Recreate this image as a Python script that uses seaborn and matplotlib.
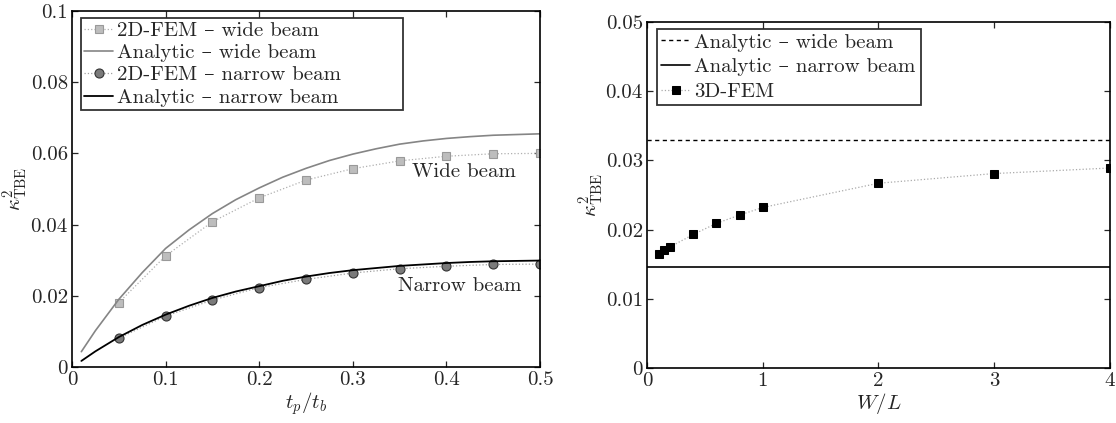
import matplotlib
matplotlib.use("Agg")
import matplotlib.pyplot as plt
import seaborn as sns
import numpy as np

# ---- Left panel data ----
tp_fem = [0.05, 0.10, 0.15, 0.20, 0.25, 0.30, 0.35, 0.40, 0.45, 0.50]
wide_fem = [0.0181, 0.0312, 0.0408, 0.0475, 0.0525, 0.0557, 0.0579, 0.0592, 0.0599, 0.0600]
narrow_fem = [0.0081, 0.0143, 0.0188, 0.0223, 0.0246, 0.0264, 0.0276, 0.0283, 0.0288, 0.0289]

tp_an = [0.01, 0.025, 0.05, 0.075, 0.10, 0.125, 0.15, 0.175, 0.20, 0.225, 0.25, 0.275,
         0.30, 0.325, 0.35, 0.375, 0.40, 0.425, 0.45, 0.475, 0.50]
wide_an = [0.0043, 0.0102, 0.0190, 0.0265, 0.0333, 0.0385, 0.0431, 0.0470, 0.0503, 0.0533,
           0.0558, 0.0580, 0.0598, 0.0613, 0.0626, 0.0635, 0.0642, 0.0647, 0.0651, 0.0653, 0.0655]
narrow_an = [0.0017, 0.0044, 0.0084, 0.0118, 0.0147, 0.0172, 0.0194, 0.0212, 0.0227, 0.0242,
             0.0254, 0.0264, 0.0272, 0.0278, 0.0284, 0.0288, 0.0292, 0.0295, 0.0297, 0.0298, 0.0299]

# ---- Right panel data ----
wl = [0.1, 0.15, 0.2, 0.4, 0.6, 0.8, 1.0, 2.0, 3.0, 4.0]
fem3d = [0.0165, 0.0170, 0.0175, 0.0193, 0.0209, 0.0221, 0.0232, 0.0267, 0.0281, 0.0289]
wide_const = 0.0330
narrow_const = 0.0146

left_xticks = [0, 0.1, 0.2, 0.3, 0.4, 0.5]
left_xlabels = ["0", "0.1", "0.2", "0.3", "0.4", "0.5"]
left_yticks = [0, 0.02, 0.04, 0.06, 0.08, 0.1]
left_ylabels = ["0", "0.02", "0.04", "0.06", "0.08", "0.1"]
right_xticks = [0, 1, 2, 3, 4]
right_xlabels = ["0", "1", "2", "3", "4"]
right_yticks = [0, 0.01, 0.02, 0.03, 0.04, 0.05]
right_ylabels = ["0", "0.01", "0.02", "0.03", "0.04", "0.05"]

sns.set_style("ticks")
plt.rcParams['font.family'] = ['cmr10', 'DejaVu Serif']
plt.rcParams['mathtext.fontset'] = 'cm'
plt.rcParams['axes.unicode_minus'] = False
plt.rcParams['axes.formatter.use_mathtext'] = True
FS = 15

fig = plt.figure(figsize=(11.16, 4.23), dpi=100)
ax1 = fig.add_axes([0.0645, 0.1324, 0.4194, 0.8416])
ax2 = fig.add_axes([0.5797, 0.130, 0.4149, 0.818])

# Left panel
sns.lineplot(x=tp_fem, y=wide_fem, ax=ax1, color='#b0b0b0', linestyle=':', lw=0.9,
             marker='s', markersize=5.5, markerfacecolor='#bdbdbd', markeredgecolor='#999999',
             markeredgewidth=0.8, label='2D-FEM – wide beam')
sns.lineplot(x=tp_an, y=wide_an, ax=ax1, color='#858585', lw=1.2,
             label='Analytic – wide beam')
sns.lineplot(x=tp_fem, y=narrow_fem, ax=ax1, color='#a0a0a0', linestyle=':', lw=0.9,
             marker='o', markersize=6.5, markerfacecolor='#7a7a7a', markeredgecolor='#333333',
             markeredgewidth=0.8, label='2D-FEM – narrow beam')
sns.lineplot(x=tp_an, y=narrow_an, ax=ax1, color='black', lw=1.3,
             label='Analytic – narrow beam')
ax1.text(0.419, 0.0548, 'Wide beam', ha='center', va='center', fontsize=FS)
ax1.text(0.414, 0.0228, 'Narrow beam', ha='center', va='center', fontsize=FS)

ax1.set_xlim(0, 0.5)
ax1.set_ylim(0, 0.1)
ax1.set_xticks(left_xticks)
ax1.set_xticklabels(left_xlabels)
ax1.set_yticks(left_yticks)
ax1.set_yticklabels(left_ylabels)
ax1.set_xlabel(r'$t_p/t_b$', fontsize=FS, labelpad=1)
ax1.set_ylabel(r'$\kappa^2_{\mathrm{TBE}}$', fontsize=FS)
ax1.yaxis.set_label_coords(-0.090, 0.5)
leg1 = ax1.legend(loc='upper left', bbox_to_anchor=(0.019, 0.705, 0.688, 0.275),
                  mode='expand', borderaxespad=0,
                  fontsize=FS, frameon=True, fancybox=False,
                  edgecolor='black', handlelength=1.4, handletextpad=0.2,
                  labelspacing=0.18, borderpad=0.15)
leg1.get_frame().set_linewidth(1.3)

# Right panel
ax2.axhline(wide_const, color='black', linestyle=(0, (3, 2.5)), lw=1.0,
            label='Analytic – wide beam')
ax2.axhline(narrow_const, color='black', lw=1.2, label='Analytic – narrow beam')
sns.lineplot(x=wl, y=fem3d, ax=ax2, color='#aaaaaa', linestyle=':', lw=0.9,
             marker='s', markersize=5.5, markerfacecolor='black', markeredgecolor='black',
             label='3D-FEM')
ax2.set_xlim(0, 4)
ax2.set_ylim(0, 0.05)
ax2.set_xticks(right_xticks)
ax2.set_xticklabels(right_xlabels)
ax2.set_yticks(right_yticks)
ax2.set_yticklabels(right_ylabels)
ax2.set_xlabel(r'$W/L$', fontsize=FS, labelpad=1)
ax2.set_ylabel(r'$\kappa^2_{\mathrm{TBE}}$', fontsize=FS)
ax2.yaxis.set_label_coords(-0.089, 0.5)
leg2 = ax2.legend(loc='upper left', bbox_to_anchor=(0.0216, 0.763, 0.57, 0.217),
                  mode='expand', borderaxespad=0,
                  fontsize=FS, frameon=True, fancybox=False,
                  edgecolor='black', handlelength=1.4, handletextpad=0.2,
                  labelspacing=0.3, borderpad=0.2)
leg2.get_frame().set_linewidth(1.3)

for ax in (ax1, ax2):
    for s in ax.spines.values():
        s.set_visible(True)
        s.set_linewidth(1.2)
        s.set_color('black')
    ax.tick_params(direction='in', top=True, right=True, length=4, width=0.9,
                   labelsize=FS, pad=3)

fig.savefig('out.png', dpi=100)
